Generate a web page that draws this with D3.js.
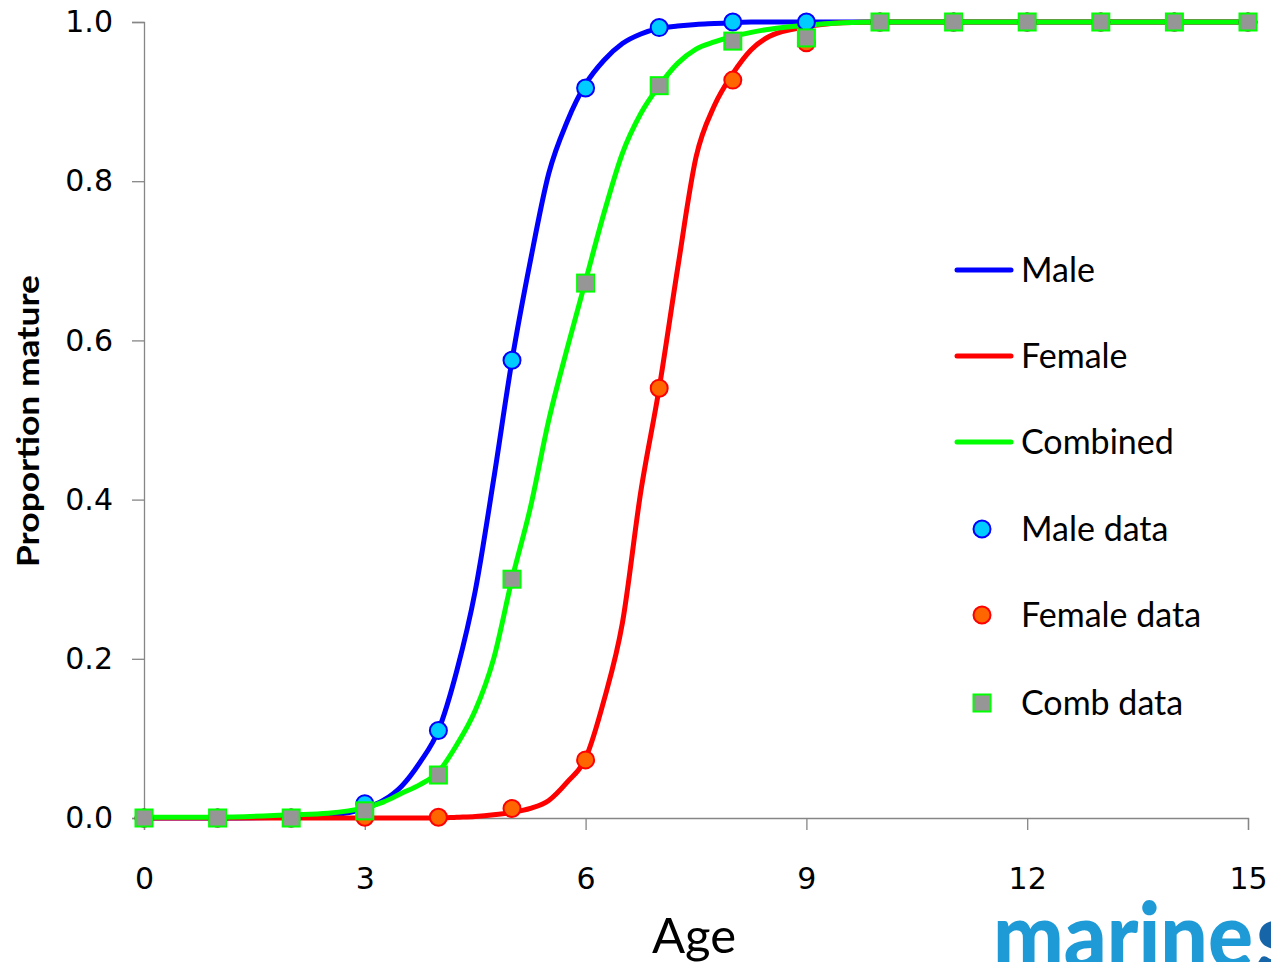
<!DOCTYPE html>
<html><head><meta charset="utf-8">
<script src="https://cdn.jsdelivr.net/npm/d3@7"></script>
<style>html,body{margin:0;padding:0;background:#fff;overflow:hidden}</style>
</head><body><svg id="chart" width="1271" height="962"></svg>
<script>
// ---- data ----
const dataAges = [0,1,2,3,4,5,6,7,8,9,10,11,12,13,14,15];
const maleData   = [0,0,0,0.018,0.11,0.575,0.917,0.993,1.0,1.0,1,1,1,1,1,1];
const femaleData = [0,0,0,0.001,0.001,0.012,0.073,0.54,0.927,0.974,1,1,1,1,1,1];
const combData   = [0,0,0,0.009,0.054,0.30,0.672,0.92,0.976,0.98,1,1,1,1,1,1];

const curveAges = [0,1,2,2.5,3,3.25,3.5,3.75,4,4.25,4.5,4.75,5,5.25,5.5,5.75,6,6.25,6.5,6.75,7,7.25,7.5,7.75,8,8.25,8.5,9,9.5,10,11,12,13,14,15];
const maleCurve   = [0,0,0.001,0.003,0.012,0.022,0.04,0.07,0.11,0.185,0.285,0.425,0.575,0.70,0.81,0.875,0.922,0.952,0.973,0.985,0.992,0.995,0.997,0.998,0.999,1,1,1,1,1,1,1,1,1,1];
const femaleCurve = [0,0,0,0,0,0,0,0,0,0.001,0.002,0.004,0.007,0.012,0.022,0.045,0.075,0.148,0.245,0.41,0.54,0.69,0.83,0.895,0.935,0.965,0.982,0.994,0.999,1,1,1,1,1,1];
const combCurve   = [0.001,0.001,0.004,0.006,0.013,0.02,0.031,0.042,0.058,0.092,0.135,0.2,0.30,0.39,0.50,0.59,0.675,0.76,0.835,0.885,0.92,0.948,0.966,0.975,0.982,0.987,0.991,0.996,0.999,1,1,1,1,1,1];

const xTicks = [0,3,6,9,12,15];
const yTicks = [0,0.2,0.4,0.6,0.8,1.0];
const legendLines = ["Male","Female","Combined"];
const legendMarkers = ["Male data","Female data","Comb data"];

// ---- drawing ----
const svg = d3.select("#chart");
svg.append("rect").attr("width",1271).attr("height",962).attr("fill","#fff");
const x = d3.scaleLinear().domain([0,15]).range([144,1248]);
const y = d3.scaleLinear().domain([0,1]).range([818,22]);
const axisColor = "#868686";
const tickFont = "'DejaVu Sans', Verdana, sans-serif";
const textFont = "Lato, 'Open Sans', sans-serif";

// y axis
const gy = svg.append("g").attr("transform","translate(144,0)")
  .call(d3.axisLeft(y).tickValues(yTicks).tickFormat(d3.format(".1f")).tickSizeOuter(0).tickSize(12).tickPadding(19));
gy.select(".domain").attr("stroke",axisColor).attr("stroke-width",1.3);
gy.selectAll(".tick line").attr("stroke",axisColor).attr("stroke-width",1.3);
gy.selectAll(".tick text").attr("font-family",tickFont).attr("font-size",30).attr("fill","#000");

// x axis
const gx = svg.append("g").attr("transform","translate(0,818)")
  .call(d3.axisBottom(x).tickValues(xTicks).tickFormat(d3.format("d")).tickSizeOuter(0).tickSize(12).tickPadding(38));
gx.select(".domain").attr("stroke",axisColor).attr("stroke-width",1.3);
gx.selectAll(".tick line").attr("stroke",axisColor).attr("stroke-width",1.3);
gx.selectAll(".tick text").attr("font-family",tickFont).attr("font-size",30).attr("fill","#000");

// axis titles
svg.append("text").attr("x",694).attr("y",953).attr("text-anchor","middle")
  .attr("font-family",textFont).attr("font-size",49).attr("fill","#000").text("Age");
svg.append("text").attr("transform","translate(39,421) rotate(-90)").attr("text-anchor","middle")
  .attr("font-family",textFont).attr("font-weight","bold").attr("font-size",30)
  .attr("textLength",292).attr("lengthAdjust","spacingAndGlyphs").attr("fill","#000").text("Proportion mature");

// curves
const line = d3.line().x(d=>x(d[0])).y(d=>y(d[1])).curve(d3.curveMonotoneX);
const curves = [
  {vals: maleCurve, color:"#0000ff"},
  {vals: femaleCurve, color:"#ff0000"},
  {vals: combCurve, color:"#00ff00"}
];
curves.forEach(c=>{
  svg.append("path").datum(curveAges.map((a,i)=>[a,c.vals[i]]))
    .attr("d",line).attr("fill","none").attr("stroke",c.color).attr("stroke-width",5)
    .attr("stroke-linejoin","round").attr("stroke-linecap","round");
});

// markers
svg.append("g").selectAll("circle").data(dataAges.map((a,i)=>[a,maleData[i]])).join("circle")
  .attr("cx",d=>x(d[0])).attr("cy",d=>y(d[1])).attr("r",8.5)
  .attr("fill","#00ccff").attr("stroke","#0000ff").attr("stroke-width",2);
svg.append("g").selectAll("circle").data(dataAges.map((a,i)=>[a,femaleData[i]])).join("circle")
  .attr("cx",d=>x(d[0])).attr("cy",d=>y(d[1])).attr("r",8.5)
  .attr("fill","#ff6600").attr("stroke","#ff0000").attr("stroke-width",2);
svg.append("g").selectAll("rect").data(dataAges.map((a,i)=>[a,combData[i]])).join("rect")
  .attr("x",d=>x(d[0])-8.5).attr("y",d=>y(d[1])-8.5).attr("width",17).attr("height",17)
  .attr("fill","#969696").attr("stroke","#00ff00").attr("stroke-width",2);

// legend
const legY = [270,356,442,529,615,703];
const lineColors = ["#0000ff","#ff0000","#00ff00"];
legendLines.forEach((t,i)=>{
  svg.append("line").attr("x1",957).attr("x2",1011).attr("y1",legY[i]).attr("y2",legY[i])
    .attr("stroke",lineColors[i]).attr("stroke-width",5).attr("stroke-linecap","round");
  svg.append("text").attr("x",1021).attr("y",legY[i]).attr("dy","0.35em")
    .attr("font-family",textFont).attr("font-size",34).attr("fill","#000").text(t);
});
legendMarkers.forEach((t,i)=>{
  const yy = legY[i+3];
  if(i<2){
    svg.append("circle").attr("cx",982).attr("cy",yy).attr("r",8.5)
      .attr("fill",i===0?"#00ccff":"#ff6600").attr("stroke",i===0?"#0000ff":"#ff0000").attr("stroke-width",2);
  } else {
    svg.append("rect").attr("x",973.5).attr("y",yy-8.5).attr("width",17).attr("height",17)
      .attr("fill","#969696").attr("stroke","#00ff00").attr("stroke-width",2);
  }
  svg.append("text").attr("x",1021).attr("y",yy).attr("dy","0.35em")
    .attr("font-family",textFont).attr("font-size",34).attr("fill","#000").text(t);
});

// logo fragment
svg.append("text").attr("x",993).attr("y",968).attr("font-family",textFont).attr("font-weight",900)
  .attr("font-size",92).attr("textLength",260).attr("lengthAdjust","spacingAndGlyphs")
  .attr("fill","#1e9bd7").text("marine");
svg.append("text").attr("x",1256).attr("y",968).attr("font-family",textFont).attr("font-weight",900)
  .attr("font-size",92).attr("fill","#1565a8").text("s");
</script></body></html>
